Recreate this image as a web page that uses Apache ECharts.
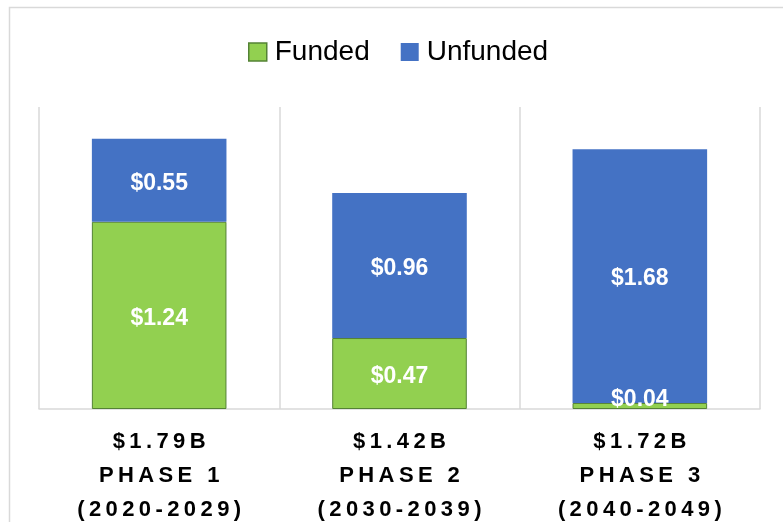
<!DOCTYPE html>
<html>
<head>
<meta charset="utf-8">
<script src="https://cdn.jsdelivr.net/npm/echarts@6/dist/echarts.min.js"></script>
<style>
  html, body { margin: 0; padding: 0; background: #fff; }
  #chart { width: 783px; height: 522px; }
</style>
</head>
<body>
<div id="chart"></div>
<script>
// data (billions)
var totals = ["$1.79B", "$1.42B", "$1.72B"];
var phases = ["PHASE 1", "PHASE 2", "PHASE 3"];
var years = ["(2020-2029)", "(2030-2039)", "(2040-2049)"];
var funded = [1.24, 0.47, 0.04];
var unfunded = [0.55, 0.96, 1.68];

// Excel style letter spacing, done with thin spaces
function spaced(s) {
  return s.split("").join("\u2009");
}

var categories = totals.map(function (t, i) {
  return spaced(t) + "\n" + spaced(phases[i]) + "\n" + spaced(years[i]);
});

var mychart = echarts.init(document.getElementById("chart"));

var labelStyle = {
  show: true,
  position: "inside",
  offset: [0, 3],
  color: "#ffffff",
  fontFamily: "Liberation Sans",
  fontWeight: "bold",
  fontSize: 23,
  formatter: function (p) {
    return "$" + p.value.toFixed(2);
  }
};

var option = {
  animation: false,
  graphic: [
    {
      type: "rect",
      shape: { x: 9.5, y: 7.5, width: 900, height: 900 },
      style: { fill: "none", stroke: "#d9d9d9", lineWidth: 1.5 },
      z: -1
    }
  ],
  legend: {
    top: 33,
    left: 243,
    icon: "rect",
    itemWidth: 18,
    itemHeight: 18,
    itemGap: 31,
    textStyle: {
      fontFamily: "Liberation Sans",
      fontSize: 28,
      color: "#000000",
      padding: [0, 0, 0, 3]
    },
    data: [
      { name: "Funded", itemStyle: { color: "#92d050", borderColor: "#548235", borderWidth: 1.5 } },
      { name: "Unfunded", itemStyle: { color: "#4472c4" } }
    ]
  },
  grid: {
    left: 39,
    right: 23,
    top: 107,
    bottom: 113,
    outerBoundsMode: "none",
    containLabel: false
  },
  xAxis: {
    type: "category",
    data: categories,
    axisLine: { lineStyle: { color: "#d9d9d9", width: 1.5 } },
    axisTick: { show: false },
    splitLine: { show: true, lineStyle: { color: "#d9d9d9", width: 1.5 } },
    axisLabel: {
      margin: 16,
      color: "#000000",
      fontFamily: "Liberation Sans",
      fontWeight: "bold",
      fontSize: 22,
      lineHeight: 34
    }
  },
  yAxis: {
    type: "value",
    min: 0,
    max: 2,
    show: false
  },
  series: [
    {
      name: "Funded",
      type: "bar",
      stack: "total",
      barWidth: "56%",
      itemStyle: { color: "#92d050", borderColor: "#548235", borderWidth: 1 },
      label: labelStyle,
      data: funded.map(function (v) {
        // tiny segment: Excel nudges the label up to stay inside the plot
        return v < 0.1 ? { value: v, label: { offset: [0, -6] } } : v;
      })
    },
    {
      name: "Unfunded",
      type: "bar",
      stack: "total",
      barWidth: "56%",
      itemStyle: { color: "#4472c4" },
      label: labelStyle,
      data: unfunded
    }
  ]
};

mychart.setOption(option);
</script>
</body>
</html>
